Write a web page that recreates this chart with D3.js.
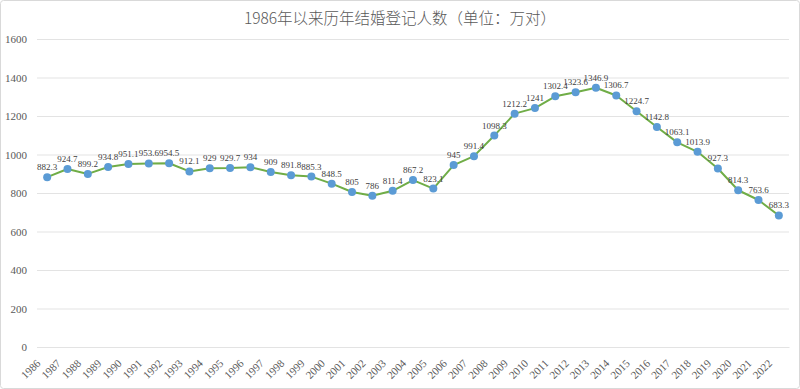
<!DOCTYPE html>
<html>
<head>
<meta charset="utf-8">
<script src="https://cdn.jsdelivr.net/npm/d3@7"></script>
<style>
  html, body { margin: 0; padding: 0; background: #fff; }
  svg { display: block; }
</style>
</head>
<body>
<svg id="chart" width="800" height="389"></svg>
<script>
const title = "1986年以来历年结婚登记人数（单位：万对）";
const years = ["1986","1987","1988","1989","1990","1991","1992","1993","1994","1995","1996","1997","1998","1999","2000","2001","2002","2003","2004","2005","2006","2007","2008","2009","2010","2011","2012","2013","2014","2015","2016","2017","2018","2019","2020","2021","2022"];
const values = [882.3,924.7,899.2,934.8,951.1,953.6,954.5,912.1,929,929.7,934,909,891.8,885.3,848.5,805,786,811.4,867.2,823.1,945,991.4,1098.3,1212.2,1241,1302.4,1323.6,1346.9,1306.7,1224.7,1142.8,1063.1,1013.9,927.3,814.3,763.6,683.3];
const yTicks = [0,200,400,600,800,1000,1200,1400,1600];

const svg = d3.select("#chart");
const W = 800, H = 389;
const plot = {left: 37, right: 789, top: 39, bottom: 347};
const SERIF = "Liberation Serif";

svg.append("rect")
  .attr("x", 0.5).attr("y", 0.5).attr("width", W - 1).attr("height", H - 1)
  .attr("rx", 3).attr("fill", "#fff").attr("stroke", "#d9d9d9");

const x = d3.scaleBand().domain(years).range([plot.left, plot.right]).padding(0);
const xc = d => x(d) + x.bandwidth() / 2;
const y = d3.scaleLinear().domain([0, 1600]).range([plot.bottom, plot.top]);

// gridlines + y labels via axis
const yAxis = svg.append("g")
  .attr("transform", `translate(${plot.left},0)`)
  .call(d3.axisLeft(y).tickValues(yTicks).tickFormat(d3.format("d"))
    .tickSize(-(plot.right - plot.left)).tickPadding(10));
yAxis.attr("font-family", SERIF).attr("font-size", 11);
yAxis.select(".domain").remove();
yAxis.selectAll(".tick line").attr("stroke", "#e3e3e3").attr("stroke-width", 1);
yAxis.selectAll(".tick text").attr("fill", "#595959");

// x labels
const xAxis = svg.append("g")
  .attr("transform", `translate(0,${plot.bottom})`)
  .call(d3.axisBottom(x).tickSize(0).tickPadding(0));
xAxis.attr("font-family", SERIF).attr("font-size", 11);
xAxis.select(".domain").attr("stroke", "#e3e3e3");
xAxis.selectAll(".tick text")
  .attr("fill", "#595959")
  .attr("text-anchor", "end")
  .attr("dy", null)
  .attr("y", 0)
  .attr("transform", "translate(-6,17) rotate(-45)");

// line
const line = d3.line().x((d, i) => xc(years[i])).y(d => y(d));
svg.append("path")
  .datum(values)
  .attr("d", line)
  .attr("fill", "none")
  .attr("stroke", "#70AD47")
  .attr("stroke-width", 2)
  .attr("stroke-linejoin", "round");

// markers
svg.append("g").selectAll("circle")
  .data(values)
  .join("circle")
  .attr("cx", (d, i) => xc(years[i]))
  .attr("cy", d => y(d))
  .attr("r", 4)
  .attr("fill", "#5B9BD5");

// data labels
svg.append("g")
  .attr("font-family", SERIF)
  .attr("font-size", 9)
  .selectAll("text")
  .data(values)
  .join("text")
  .attr("x", (d, i) => xc(years[i]))
  .attr("y", d => y(d) - 7)
  .attr("text-anchor", "middle")
  .attr("fill", "#404040")
  .text(d => d);

// title
svg.append("text")
  .attr("x", 400).attr("y", 24)
  .attr("text-anchor", "middle")
  .attr("font-family", "Noto Sans CJK SC")
  .attr("font-weight", 300)
  .attr("font-size", 15.5)
  .attr("fill", "#595959")
  .text(title);
</script>
</body>
</html>
